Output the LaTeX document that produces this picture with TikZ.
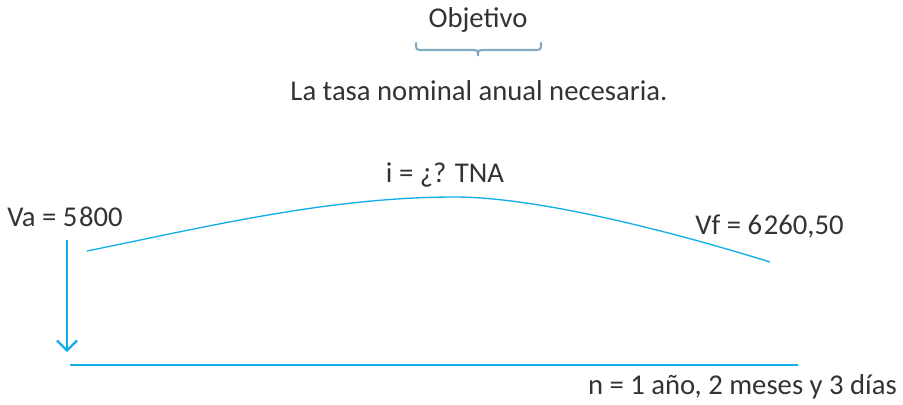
\documentclass[tikz,border=0pt]{standalone}
\usepackage{fontspec}
\setmainfont{Carlito}
\usetikzlibrary{arrows.meta}
\definecolor{txt}{HTML}{333333}
\definecolor{cyanb}{HTML}{12AEE8}
\definecolor{bracec}{HTML}{82AAC2}
\newcommand{\thsp}{\hspace{0.06em}}
\begin{document}
\begin{tikzpicture}[x=0.75pt,y=-0.75pt,
  lbl/.style={text=txt,font=\fontsize{21.5}{25}\selectfont,inner sep=0pt}]
\useasboundingbox (0,0) rectangle (903,404);
\node[lbl] (obj) at (478,20) {Objetivo};
\draw[bracec,line width=1.6pt,line cap=round]
  (416,43) .. controls (416,50) .. (424,50) -- (470,50) .. controls (478,50) .. (478,56)
  .. controls (478,50) .. (486,50) -- (533,50) .. controls (541,50) .. (541,43);
\node[lbl] (goal) at (479,91) {La tasa nominal anual necesaria.};
\node[lbl] (rate) at (445,175) {i = ¿? TNA};
\node[lbl,anchor=west] (va) at (7,217) {Va = 5\thsp800};
\node[lbl,anchor=west] (vf) at (695,227) {Vf = 6\thsp260,50};
\node[lbl,anchor=east] (n) at (897,387) {n = 1 año, 2 meses y 3 días};
\coordinate (a0) at (87,251);
\coordinate (am) at (455,197);
\coordinate (a1) at (770,262);
\draw[cyanb,line width=1pt] (a0) .. controls (210,226) and (330,197) .. (am)
  .. controls (540,197) and (680,234) .. (a1);
\coordinate (d0) at (67,240);
\coordinate (d1) at (67,352);
\draw[cyanb,line width=1.6pt,-{Straight Barb[length=7.5pt,width=15pt]}] (d0) -- (d1);
\coordinate (h0) at (70,365);
\coordinate (h1) at (798,365);
\draw[cyanb,line width=2.2pt] (h0) -- (h1);
\end{tikzpicture}
\end{document}
